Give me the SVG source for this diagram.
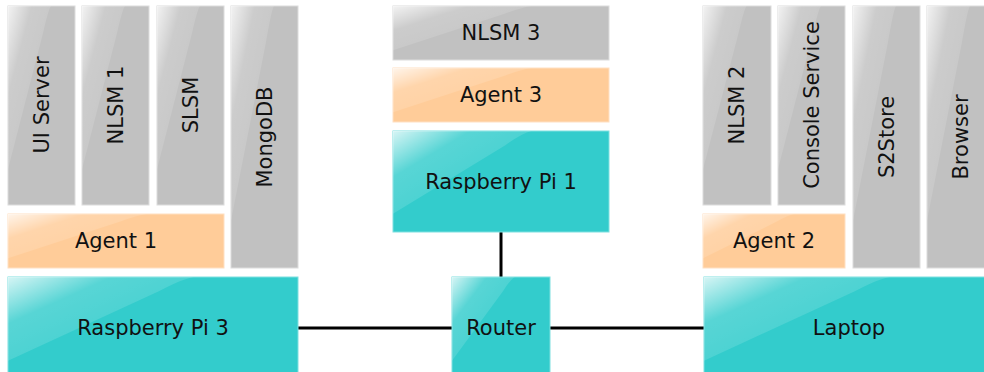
<svg xmlns="http://www.w3.org/2000/svg" xmlns:xlink="http://www.w3.org/1999/xlink" width="984" height="372" viewBox="0 0 984 372">
<style>
text{font-family:"DejaVu Sans","Liberation Sans",sans-serif;font-size:21px;fill:#111;text-anchor:middle;dominant-baseline:central}
.g{fill:#c1c1c1;stroke:#dcdcdc;stroke-width:1}
.o{fill:#ffcc99;stroke:#ffe0c2;stroke-width:1}
.t{fill:#33cccc;stroke:#7fe0e0;stroke-width:1}
.c{stroke:#000;stroke-width:3;fill:none}
</style>
<defs>
<linearGradient id="gg" x1="0" y1="0" x2="0.8" y2="0.8">
<stop offset="0" stop-color="#fff" stop-opacity="0.8"/>
<stop offset="0.35" stop-color="#fff" stop-opacity="0.18"/>
<stop offset="1" stop-color="#fff" stop-opacity="0.06"/>
</linearGradient>
<path id="gloss" d="M0,0 H0.64 Q0.6,0.02 0.52,0.14 L0,0.82 Z" fill="url(#gg)"/>
</defs>
<rect width="984" height="372" fill="#fff"/>
<g id="connectors">
<line class="c" x1="298" y1="328" x2="452" y2="328"/>
<line class="c" x1="550" y1="328" x2="704" y2="328"/>
<line class="c" x1="501" y1="232" x2="501" y2="277"/>
</g>
<g id="ui-server"><rect class="g" x="8" y="6" width="67" height="199"/><use href="#gloss" transform="translate(8,6) scale(67,199)"/><text transform="translate(42,105) rotate(-90)">UI Server</text></g>
<g id="nlsm1"><rect class="g" x="82" y="6" width="67" height="199"/><use href="#gloss" transform="translate(82,6) scale(67,199)"/><text transform="translate(116,105) rotate(-90)">NLSM 1</text></g>
<g id="slsm"><rect class="g" x="157" y="6" width="67" height="199"/><use href="#gloss" transform="translate(157,6) scale(67,199)"/><text transform="translate(191,105) rotate(-90)">SLSM</text></g>
<g id="mongodb"><rect class="g" x="231" y="6" width="67" height="262"/><use href="#gloss" transform="translate(231,6) scale(67,262)"/><text transform="translate(265,137) rotate(-90)">MongoDB</text></g>
<g id="agent1"><rect class="o" x="8" y="214" width="216" height="54"/><use href="#gloss" transform="translate(8,214) scale(216,54)"/><text x="116" y="241">Agent 1</text></g>
<g id="rpi3"><rect class="t" x="8" y="277" width="290" height="102"/><use href="#gloss" transform="translate(8,277) scale(290,102)"/><text x="153" y="328">Raspberry Pi 3</text></g>
<g id="nlsm3"><rect class="g" x="393" y="6" width="216" height="54"/><use href="#gloss" transform="translate(393,6) scale(216,54)"/><text x="501" y="33">NLSM 3</text></g>
<g id="agent3"><rect class="o" x="393" y="68" width="216" height="54"/><use href="#gloss" transform="translate(393,68) scale(216,54)"/><text x="501" y="95">Agent 3</text></g>
<g id="rpi1"><rect class="t" x="393" y="131" width="216" height="101"/><use href="#gloss" transform="translate(393,131) scale(216,101)"/><text x="501" y="182">Raspberry Pi 1</text></g>
<g id="router"><rect class="t" x="452" y="277" width="98" height="102"/><use href="#gloss" transform="translate(452,277) scale(98,102)"/><text x="501" y="328">Router</text></g>
<g id="nlsm2"><rect class="g" x="703" y="6" width="68" height="199"/><use href="#gloss" transform="translate(703,6) scale(68,199)"/><text transform="translate(737,105) rotate(-90)">NLSM 2</text></g>
<g id="console-service"><rect class="g" x="778" y="6" width="67" height="199"/><use href="#gloss" transform="translate(778,6) scale(67,199)"/><text transform="translate(812,105) rotate(-90)">Console Service</text></g>
<g id="s2store"><rect class="g" x="853" y="6" width="67" height="262"/><use href="#gloss" transform="translate(853,6) scale(67,262)"/><text transform="translate(887,137) rotate(-90)">S2Store</text></g>
<g id="browser"><rect class="g" x="927" y="6" width="67" height="262"/><use href="#gloss" transform="translate(927,6) scale(67,262)"/><text transform="translate(961,137) rotate(-90)">Browser</text></g>
<g id="agent2"><rect class="o" x="703" y="214" width="142" height="54"/><use href="#gloss" transform="translate(703,214) scale(142,54)"/><text x="774" y="241">Agent 2</text></g>
<g id="laptop"><rect class="t" x="704" y="277" width="290" height="102"/><use href="#gloss" transform="translate(704,277) scale(290,102)"/><text x="849" y="328">Laptop</text></g>
</svg>
